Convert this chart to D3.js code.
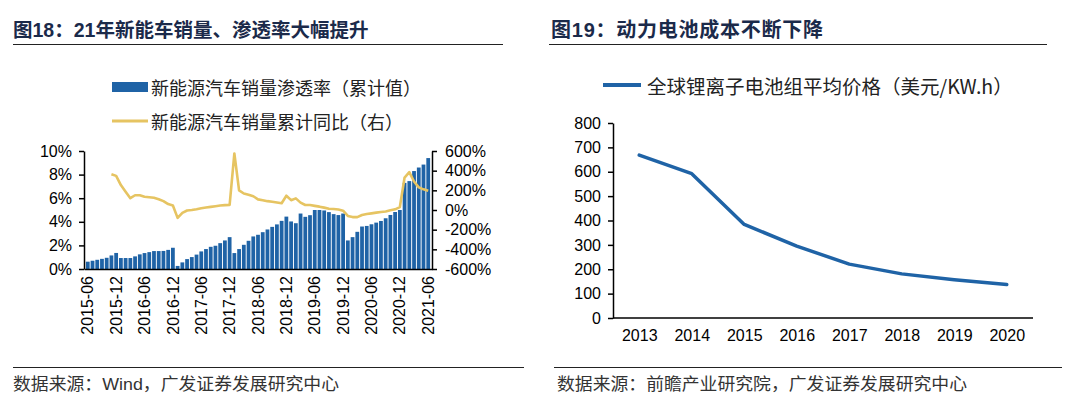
<!DOCTYPE html>
<html>
<head>
<meta charset="utf-8">
<script src="https://cdn.jsdelivr.net/npm/d3@7"></script>
<style>
  body { margin: 0; background: #fff; }
  svg { display: block; }
</style>
</head>
<body>
<div id="chart"></div>
<script>
// ---- data: left chart (monthly, 2015-06 .. 2021-06)
const months = [
  "2015-06","2015-07","2015-08","2015-09","2015-10","2015-11","2015-12",
  "2016-01","2016-02","2016-03","2016-04","2016-05","2016-06","2016-07","2016-08","2016-09","2016-10","2016-11","2016-12",
  "2017-01","2017-02","2017-03","2017-04","2017-05","2017-06","2017-07","2017-08","2017-09","2017-10","2017-11","2017-12",
  "2018-01","2018-02","2018-03","2018-04","2018-05","2018-06","2018-07","2018-08","2018-09","2018-10","2018-11","2018-12",
  "2019-01","2019-02","2019-03","2019-04","2019-05","2019-06","2019-07","2019-08","2019-09","2019-10","2019-11","2019-12",
  "2020-01","2020-02","2020-03","2020-04","2020-05","2020-06","2020-07","2020-08","2020-09","2020-10","2020-11","2020-12",
  "2021-01","2021-02","2021-03","2021-04","2021-05","2021-06"
];
// 新能源汽车销量渗透率（累计值）, %
const penetration = [
  0.62, 0.70, 0.78, 0.86, 0.95, 1.15, 1.36,
  0.93, 0.93, 0.93, 1.07, 1.24, 1.35, 1.43, 1.52, 1.52, 1.53, 1.62, 1.80,
  0.26, 0.56, 0.84, 1.01, 1.22, 1.49, 1.69, 1.88, 1.97, 2.19, 2.42, 2.70,
  1.35, 1.69, 2.05, 2.39, 2.76, 2.90, 3.12, 3.35, 3.57, 3.78, 4.08, 4.44,
  4.03, 3.88, 4.70, 4.42, 4.56, 5.00, 5.00, 4.96, 4.82, 4.65, 4.57, 4.70,
  2.42, 2.70, 3.15, 3.60, 3.65, 3.79, 3.93, 4.07, 4.30, 4.58, 4.83, 5.00,
  7.30, 7.45, 8.30, 8.60, 8.85, 9.40
];
// 新能源汽车销量累计同比（右）, %
const yoy = [
  null, null, null, null, null, 364, 347,
  253, 185, 120, 150, 150, 135, 130, 124, 110, 90, 60, 45,
  -80, -30, -5, 0, 8, 18, 25, 32, 38, 45, 50, 52,
  575, 200, 168, 155, 140, 108, 100, 90, 84, 76, 68, 145,
  100, 118, 75, 51, 51, 42, 34, 24, 13, 10, 5, -7,
  -60, -72, -72, -51, -40, -34, -27, -20, -15, -2, 7, 30,
  330, 385, 290, 230, 210, 195
];
const monthTicks = ["2015-06","2015-12","2016-06","2016-12","2017-06","2017-12","2018-06",
                    "2018-12","2019-06","2019-12","2020-06","2020-12","2021-06"];
const leftTicks = [0, 2, 4, 6, 8, 10];
const rightTicks = [-600, -400, -200, 0, 200, 400, 600];

// ---- data: right chart
const years = ["2013","2014","2015","2016","2017","2018","2019","2020"];
const batteryPrice = [668, 592, 384, 295, 221, 181, 157, 137];
const priceTicks = [0, 100, 200, 300, 400, 500, 600, 700, 800];

const latin = "'Liberation Sans', Arial, 'Noto Sans CJK SC', sans-serif";
const cjk = "'Noto Sans CJK SC', sans-serif";
const barColor = "#1f63a6";
const lineColor = "#e6c462";
const titleColor = "#1b2a4a";

let svg = d3.select("#chart")
  .append("svg")
    .attr("width", 1071)
    .attr("height", 408);

// titles + rules
svg.append("text").attr("x", 13).attr("y", 37).text("图18：21年新能车销量、渗透率大幅提升")
  .style("font-family", latin).style("font-size", "19.5px").style("font-weight", "bold").style("fill", titleColor);
svg.append("text").attr("x", 551).attr("y", 37).text("图19：动力电池成本不断下降")
  .style("font-family", latin).style("font-size", "20px").style("font-weight", "bold").style("fill", titleColor)
  .attr("textLength", 272).attr("lengthAdjust", "spacing");
svg.append("line").attr("x1", 13).attr("x2", 503).attr("y1", 44.5).attr("y2", 44.5).style("stroke", "#222").style("stroke-width", 1);
svg.append("line").attr("x1", 549).attr("x2", 1047).attr("y1", 44.5).attr("y2", 44.5).style("stroke", "#222").style("stroke-width", 1);

// sources
svg.append("line").attr("x1", 13).attr("x2", 524).attr("y1", 367.5).attr("y2", 367.5).style("stroke", "#222").style("stroke-width", 1);
svg.append("line").attr("x1", 554).attr("x2", 1062).attr("y1", 367.5).attr("y2", 367.5).style("stroke", "#222").style("stroke-width", 1);
svg.append("text").attr("x", 13).attr("y", 390).text("数据来源：Wind，广发证券发展研究中心")
  .style("font-family", latin).style("font-size", "17px").style("fill", "#333")
  .attr("textLength", 326).attr("lengthAdjust", "spacingAndGlyphs");
svg.append("text").attr("x", 557).attr("y", 390).text("数据来源：前瞻产业研究院，广发证券发展研究中心")
  .style("font-family", latin).style("font-size", "17px").style("fill", "#333")
  .attr("textLength", 410).attr("lengthAdjust", "spacingAndGlyphs");

// ================= left chart =================
let x = d3.scaleBand()
  .domain(months)
  .range([84, 432])
  .paddingInner(0.2)
  .paddingOuter(0.4);
let yL = d3.scaleLinear().domain([0, 10]).range([269, 151]);
let yR = d3.scaleLinear().domain([-600, 600]).range([269, 151]);

// bars
svg.selectAll("rect.bar")
  .data(months)
  .enter().append("rect")
    .attr("class", "bar")
    .attr("x", (d) => x(d))
    .attr("width", x.bandwidth())
    .attr("y", (d, i) => yL(penetration[i]))
    .attr("height", (d, i) => yL(0) - yL(penetration[i]))
    .style("fill", barColor);

// yoy line
let yoyLine = d3.line()
  .defined((d) => d[1] != null)
  .x((d) => x(d[0]) + x.bandwidth() / 2)
  .y((d) => yR(d[1]));
svg.append("path")
  .datum(months.map((m, i) => [m, yoy[i]]))
  .attr("d", yoyLine)
  .style("fill", "none")
  .style("stroke", lineColor)
  .style("stroke-width", 2.6)
  .style("stroke-linejoin", "round");

// axes
let axL = svg.append("g").attr("transform", "translate(84,0)")
  .call(d3.axisLeft(yL).tickValues(leftTicks).tickFormat((d) => d + "%").tickSize(5).tickSizeOuter(0).tickPadding(7));
let axR = svg.append("g").attr("transform", "translate(432,0)")
  .call(d3.axisRight(yR).tickValues(rightTicks).tickFormat((d) => d + "%").tickSize(5).tickSizeOuter(0).tickPadding(8));
let axB = svg.append("g").attr("transform", "translate(0,269)")
  .call(d3.axisBottom(x).tickValues(monthTicks).tickSize(0).tickSizeOuter(0));
axB.selectAll("text")
  .attr("transform", "rotate(-90)")
  .attr("x", -7)
  .attr("y", 0)
  .attr("dy", "0.35em")
  .style("text-anchor", "end");

[axL, axR, axB].forEach((g) => {
  g.selectAll("text").style("font-family", latin).style("font-size", "16px").style("fill", "#000");
  g.selectAll("path, line").style("stroke", "#000").style("stroke-width", 1.5);
});

// legend (handmade)
svg.append("rect").attr("x", 112).attr("y", 82).attr("width", 36).attr("height", 10).style("fill", barColor);
svg.append("line").attr("x1", 112).attr("x2", 148).attr("y1", 121).attr("y2", 121).style("stroke", lineColor).style("stroke-width", 3);
svg.append("text").attr("x", 151).attr("y", 87).text("新能源汽车销量渗透率（累计值）")
  .style("font-family", cjk).style("font-size", "18px").style("fill", "#222").attr("dominant-baseline", "central");
svg.append("text").attr("x", 151).attr("y", 121).text("新能源汽车销量累计同比（右）")
  .style("font-family", cjk).style("font-size", "18px").style("fill", "#222").attr("dominant-baseline", "central");

// ================= right chart =================
let xP = d3.scalePoint().domain(years).range([613, 1033]).padding(0.5);
let yP = d3.scaleLinear().domain([0, 800]).range([318, 123]);

svg.append("path")
  .datum(batteryPrice)
  .attr("d", d3.line().x((d, i) => xP(years[i])).y((d) => yP(d)))
  .style("fill", "none")
  .style("stroke", barColor)
  .style("stroke-width", 3.5)
  .style("stroke-linecap", "round")
  .style("stroke-linejoin", "round");

let axPL = svg.append("g").attr("transform", "translate(613,0)")
  .call(d3.axisLeft(yP).tickValues(priceTicks).tickSize(5).tickSizeOuter(0).tickPadding(7));
let axPB = svg.append("g").attr("transform", "translate(0,318)")
  .call(d3.axisBottom(xP).tickSize(0).tickSizeOuter(0).tickPadding(12));
[axPL, axPB].forEach((g) => {
  g.selectAll("text").style("font-family", latin).style("font-size", "16px").style("fill", "#000");
  g.selectAll("path, line").style("stroke", "#000").style("stroke-width", 1.5);
});
axPB.select(".domain").attr("d", "M613,0H1033");

// legend
svg.append("line").attr("x1", 603).attr("x2", 641).attr("y1", 85).attr("y2", 85).style("stroke", barColor).style("stroke-width", 4);
svg.append("text").attr("x", 647).attr("y", 85).text("全球锂离子电池组平均价格（美元/KW.h）")
  .style("font-family", cjk).style("font-size", "19.5px").style("fill", "#222").attr("dominant-baseline", "central");
</script>
</body>
</html>
